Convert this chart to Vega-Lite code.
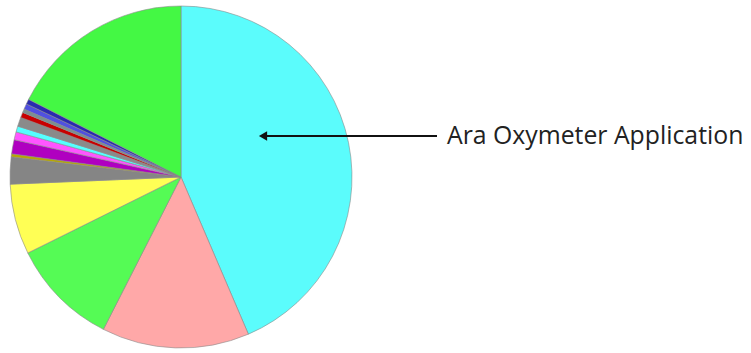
{
  "$schema": "https://vega.github.io/schema/vega-lite/v6.json",
  "width": 751,
  "height": 353,
  "autosize": "none",
  "padding": 0,
  "background": "white",
  "config": {"view": {"stroke": null}},
  "layer": [
    {
      "data": {
        "values": [
          {"i": 1, "slice": "Ara Oxymeter Application", "deg": 156.8},
          {"i": 2, "slice": "s2", "deg": 50.2},
          {"i": 3, "slice": "s3", "deg": 36.6},
          {"i": 4, "slice": "s4", "deg": 24.0},
          {"i": 5, "slice": "s5", "deg": 9.2},
          {"i": 6, "slice": "s6", "deg": 1.0},
          {"i": 7, "slice": "s7", "deg": 4.8},
          {"i": 8, "slice": "s8", "deg": 2.7},
          {"i": 9, "slice": "s9", "deg": 2.0},
          {"i": 10, "slice": "s10", "deg": 3.1},
          {"i": 11, "slice": "s11", "deg": 1.8},
          {"i": 12, "slice": "s12", "deg": 1.2},
          {"i": 13, "slice": "s13", "deg": 1.9},
          {"i": 14, "slice": "s14", "deg": 1.7},
          {"i": 15, "slice": "s15", "deg": 63.0}
        ]
      },
      "mark": {"type": "arc", "outerRadius": 171, "stroke": "#8a8a8a", "strokeWidth": 0.6},
      "encoding": {
        "x": {"datum": 181, "type": "quantitative", "scale": {"domain": [0, 751], "nice": false, "zero": false}, "axis": null},
        "y": {"datum": 177, "type": "quantitative", "scale": {"domain": [0, 353], "nice": false, "zero": false, "reverse": true}, "axis": null},
        "theta": {"field": "deg", "type": "quantitative", "stack": true, "scale": {"domain": [0, 360]}},
        "order": {"field": "i", "type": "quantitative"},
        "color": {
          "field": "slice",
          "type": "nominal",
          "sort": null,
          "legend": null,
          "scale": {
            "domain": ["Ara Oxymeter Application", "s2", "s3", "s4", "s5", "s6", "s7", "s8", "s9", "s10", "s11", "s12", "s13", "s14", "s15"],
            "range": ["#5bfcfc", "#ffa8a8", "#55fb55", "#ffff55", "#858585", "#b8a800", "#b000c0", "#ff55ff", "#55ffff", "#8a8a8a", "#c80000", "#7a9090", "#5050e0", "#2a2ab0", "#44f844"]
          }
        }
      }
    },
    {
      "data": {"values": [{"label": "Ara Oxymeter Application"}]},
      "mark": {"type": "rule", "stroke": "#111111", "strokeWidth": 2},
      "encoding": {
        "x": {"datum": 437, "type": "quantitative"},
        "x2": {"datum": 264},
        "y": {"datum": 136, "type": "quantitative"}
      }
    },
    {
      "data": {"values": [{"label": "Ara Oxymeter Application"}]},
      "mark": {"type": "point", "shape": "triangle-left", "filled": true, "color": "#111111", "size": 90, "opacity": 1},
      "encoding": {
        "x": {"datum": 263, "type": "quantitative"},
        "y": {"datum": 136, "type": "quantitative"}
      }
    },
    {
      "data": {"values": [{"label": "Ara Oxymeter Application"}]},
      "mark": {"type": "text", "align": "left", "baseline": "middle", "font": "Open Sans", "fontSize": 24.8, "color": "#222222"},
      "encoding": {
        "x": {"datum": 447, "type": "quantitative"},
        "y": {"datum": 137, "type": "quantitative"},
        "text": {"field": "label"}
      }
    }
  ]
}
